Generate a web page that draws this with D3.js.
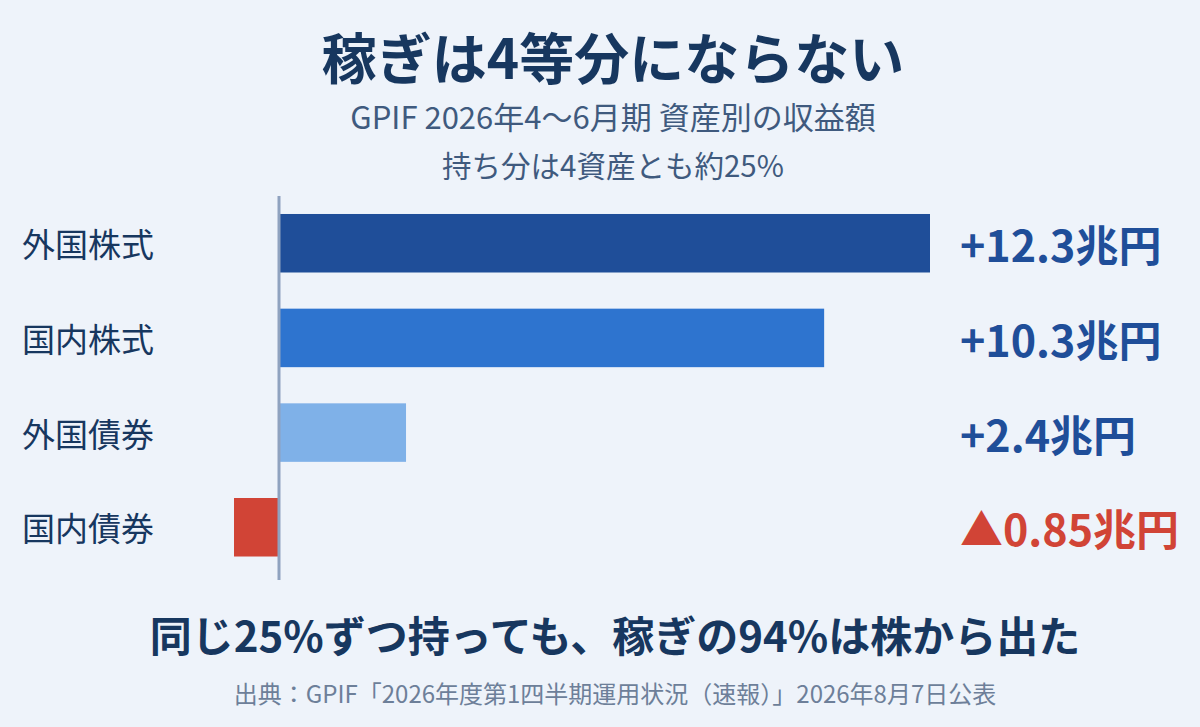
<!DOCTYPE html>
<html><head><meta charset="utf-8">
<script src="https://cdn.jsdelivr.net/npm/d3@7"></script>
<style>
html,body{margin:0;padding:0;background:#eef3fa;}
svg{display:block;font-family:"Noto Sans CJK JP","Noto Sans",sans-serif;}
</style></head>
<body>
<svg id="chart" width="1200" height="727"></svg>
<script>
const categories = ["外国株式","国内株式","外国債券","国内債券"];
const values = [12.3, 10.3, 2.4, -0.85];
const valueLabels = ["+12.3兆円","+10.3兆円","+2.4兆円","▲0.85兆円"];
const barColors = ["#1f4e99","#2e74cf","#7fb1e8","#d14436"];
const title = "稼ぎは4等分にならない";
const subtitles = ["GPIF 2026年4〜6月期 資産別の収益額","持ち分は4資産とも約25%"];
const takeaway = "同じ25%ずつ持っても、稼ぎの94%は株から出た";
const source = "出典：GPIF「2026年度第1四半期運用状況（速報）」2026年8月7日公表";

const svg = d3.select("#chart");
svg.append("rect").attr("width",1200).attr("height",727).attr("fill","#eef3fa");

const x = d3.scaleLinear().domain([0, 12.3]).range([279, 930]);
const y = d3.scaleBand().domain(categories).range([196, 574.5]).paddingInner(0.382).paddingOuter(0.19);

svg.append("text").attr("x",613).attr("y",55).attr("text-anchor","middle")
  .attr("dominant-baseline","central").attr("font-size",55).attr("font-weight",700)
  .attr("fill","#17375f").text(title);
const subSizes = [31, 29.5];
svg.selectAll("text.sub").data(subtitles).join("text").attr("class","sub")
  .attr("x",613).attr("y",(d,i)=>115+i*48.5).attr("text-anchor","middle")
  .attr("dominant-baseline","central").attr("font-size",(d,i)=>subSizes[i]).attr("fill","#3f5a7e").text(d=>d);

const data = categories.map((c,i)=>({c, v:values[i], label:valueLabels[i], color:barColors[i]}));

svg.selectAll("rect.bar").data(data).join("rect").attr("class","bar")
  .attr("x",d=>x(Math.min(0,d.v))).attr("width",d=>Math.abs(x(d.v)-x(0)))
  .attr("y",d=>y(d.c)).attr("height",y.bandwidth()).attr("fill",d=>d.color);

svg.append("line").attr("x1",x(0)).attr("x2",x(0)).attr("y1",196).attr("y2",580)
  .attr("stroke","#8fa2bf").attr("stroke-width",3);

svg.selectAll("text.cat").data(data).join("text").attr("class","cat")
  .attr("x",22).attr("y",d=>y(d.c)+y.bandwidth()/2).attr("dominant-baseline","central")
  .attr("font-size",33).attr("fill","#17375f").text(d=>d.c);

svg.selectAll("text.val").data(data).join("text").attr("class","val")
  .attr("x",960).attr("y",d=>y(d.c)+y.bandwidth()/2).attr("dominant-baseline","central")
  .attr("font-size",43).attr("font-weight",700)
  .attr("fill",d=>d.v<0?"#d14436":"#1f4e99").text(d=>d.label);

svg.append("text").attr("x",615).attr("y",633).attr("text-anchor","middle")
  .attr("dominant-baseline","central").attr("font-size",42).attr("font-weight",700)
  .attr("fill","#17375f").text(takeaway);
svg.append("text").attr("x",615).attr("y",692).attr("text-anchor","middle")
  .attr("dominant-baseline","central").attr("font-size",24).attr("fill","#6d7f99").text(source);
</script>
</body></html>
